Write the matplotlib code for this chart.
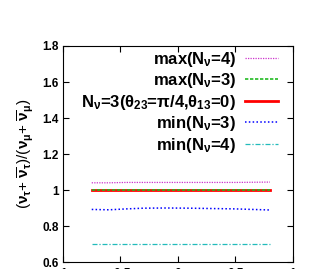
import numpy as np
import matplotlib
matplotlib.use("Agg")
import matplotlib.pyplot as plt

plt.rcParams['font.family'] = ['Liberation Sans', 'DejaVu Sans']
plt.rcParams['font.weight'] = 'bold'
plt.rcParams['mathtext.fontset'] = 'custom'
plt.rcParams['mathtext.rm'] = 'Liberation Sans:bold'
plt.rcParams['mathtext.it'] = 'Liberation Sans:bold'
plt.rcParams['mathtext.bf'] = 'Liberation Sans:bold'

# x positions of the sampled points
x = [-0.75, -0.6, -0.45, -0.3, -0.1, 0.1, 0.3, 0.5, 0.65, 0.8]

# ratio curves
max_n4 = [1.040, 1.040, 1.042, 1.042, 1.042, 1.042, 1.042, 1.042, 1.043, 1.044]
max_n3 = [1.000, 1.000, 1.000, 1.000, 1.000, 1.000, 1.000, 1.000, 1.000, 1.000]
n3_std = [1.000, 1.000, 1.000, 1.000, 1.000, 1.000, 1.000, 1.000, 1.000, 1.000]
min_n3 = [0.892, 0.890, 0.895, 0.899, 0.900, 0.899, 0.897, 0.895, 0.892, 0.889]
min_n4 = [0.700, 0.700, 0.700, 0.700, 0.700, 0.700, 0.700, 0.700, 0.700, 0.700]

xticks = [-1, -0.5, 0, 0.5, 1]
xticklabels = ["-1", "-0.5", "0", "0.5", "1"]
yticks = [0.6, 0.8, 1.0, 1.2, 1.4, 1.6, 1.8]
yticklabels = ["0.6", "0.8", "1", "1.2", "1.4", "1.6", "1.8"]

fig = plt.figure(figsize=(3.15, 2.69), dpi=100)
ax = fig.add_axes([0.2, 0.026, 0.73, 0.803])

ax.plot(x, max_n4, color='#cc33cc', ls=(0, (1, 1)), lw=0.9, label=r'max(N$_\nu$=4)')
ax.plot(x, max_n3, color='#22bb22', ls=(0, (2, 1)), lw=1.2, label=r'max(N$_\nu$=3)')
ax.plot(x, n3_std, color='red', ls='-', lw=2.0, zorder=1,
        label=r'N$_\nu$=3($\theta_{23}$=$\pi$/4,$\theta_{13}$=0)')
ax.plot(x, min_n3, color='blue', ls=(0, (1, 1.5)), lw=1.1, label=r'min(N$_\nu$=3)')
ax.plot(x, min_n4, color='#22bbbb', ls=(0, (4, 1.5, 1, 1.5)), lw=0.9, label=r'min(N$_\nu$=4)')

ax.set_xlim(-1, 1)
ax.set_ylim(0.6, 1.8)
ax.set_xticks(xticks)
ax.set_xticklabels(xticklabels)
ax.set_yticks(yticks)
ax.set_yticklabels(yticklabels)
ax.tick_params(direction='in', top=True, right=True, labelsize=8.5, length=4, pad=3)
ax.tick_params(axis='x', pad=4)
ax.set_ylabel(r'($\nu_\tau$+ $\overline{\nu}_\tau$)/($\nu_\mu$+ $\overline{\nu}_\mu$)',
              fontsize=11, labelpad=5)

ax.legend(loc='upper right', frameon=False, markerfirst=False, fontsize=12,
          handlelength=2.0, handletextpad=0.5, labelspacing=0.15,
          borderpad=0.4, borderaxespad=0.3, bbox_to_anchor=(0.985, 1.037))

fig.savefig("out.png", dpi=100)
